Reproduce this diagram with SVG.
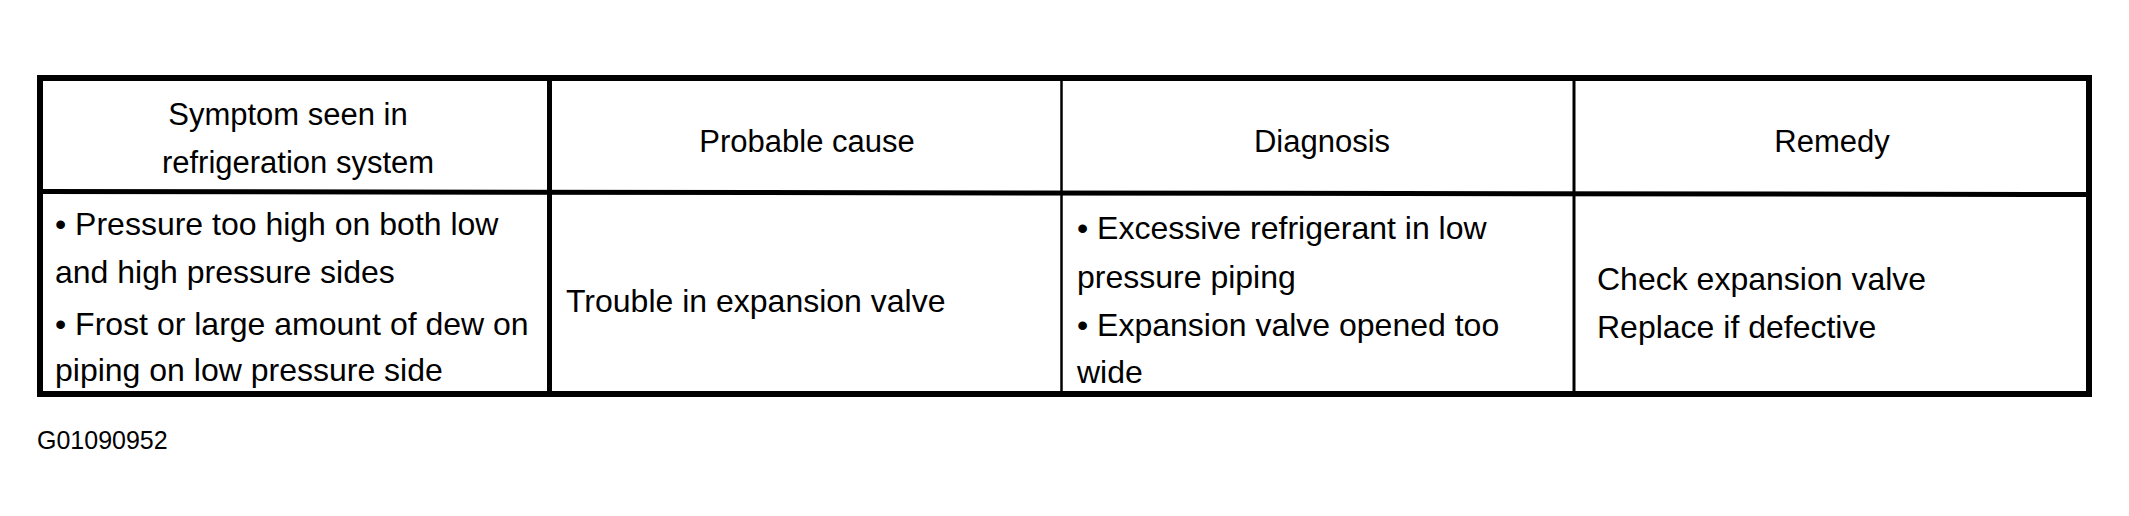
<svg xmlns="http://www.w3.org/2000/svg" width="2129" height="516" viewBox="0 0 2129 516">
<style>
text{font-family:"Liberation Sans",Arial,sans-serif;fill:#000}
.h{font-size:31px;text-anchor:middle}
.b{font-size:32px}
.id{font-size:25px}
.ln{stroke:#000;fill:none}
</style>
<rect x="0" y="0" width="2129" height="516" fill="#fff"/>
<g id="connectors">
<line class="ln" x1="40" y1="191.5" x2="2089" y2="194.5" stroke-width="5"/>
<line class="ln" x1="549.5" y1="78" x2="549.5" y2="393" stroke-width="5"/>
<line class="ln" x1="1061.5" y1="78" x2="1061.5" y2="393" stroke-width="2.5"/>
<line class="ln" x1="1574" y1="78" x2="1574" y2="393" stroke-width="3"/>
<rect class="ln" x="40" y="78" width="2049" height="316" stroke-width="6"/>
</g>
<g id="h1"><text class="h" x="288" y="125">Symptom seen in</text><text class="h" x="298" y="173">refrigeration system</text></g>
<g id="h2"><text class="h" x="807" y="152">Probable cause</text></g>
<g id="h3"><text class="h" x="1322" y="152">Diagnosis</text></g>
<g id="h4"><text class="h" x="1832" y="152">Remedy</text></g>
<g id="c1"><text class="b" x="55" y="235">• Pressure too high on both low</text><text class="b" x="55" y="283">and high pressure sides</text><text class="b" x="55" y="335">• Frost or large amount of dew on</text><text class="b" x="55" y="381">piping on low pressure side</text></g>
<g id="c2"><text class="b" x="566" y="312">Trouble in expansion valve</text></g>
<g id="c3"><text class="b" x="1077" y="239">• Excessive refrigerant in low</text><text class="b" x="1077" y="288">pressure piping</text><text class="b" x="1077" y="336">• Expansion valve opened too</text><text class="b" x="1077" y="383">wide</text></g>
<g id="c4"><text class="b" x="1597" y="290">Check expansion valve</text><text class="b" x="1597" y="338">Replace if defective</text></g>
<g id="label"><text class="id" x="37" y="449">G01090952</text></g>
</svg>
